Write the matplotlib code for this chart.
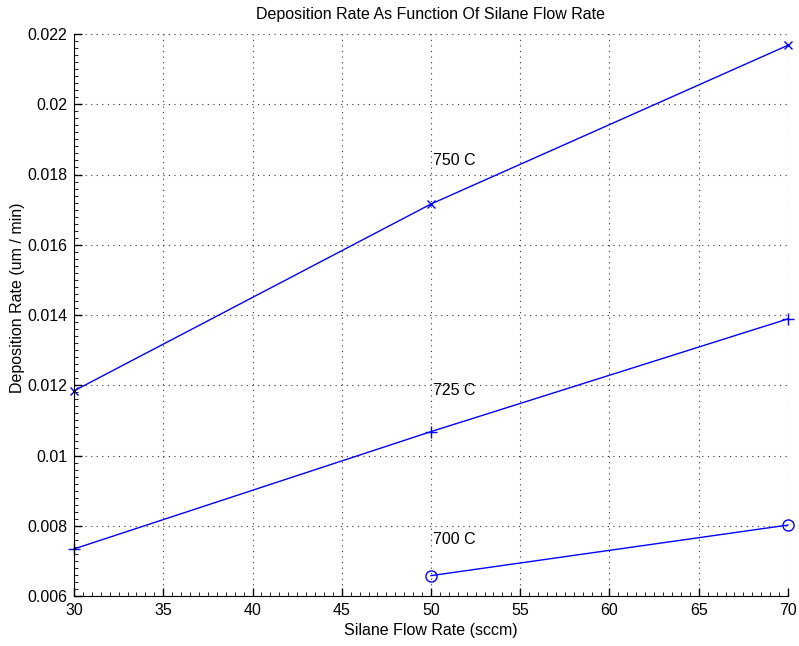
import matplotlib
matplotlib.use("Agg")
import matplotlib.pyplot as plt
from matplotlib.ticker import MultipleLocator

plt.rcParams['font.family'] = ['Liberation Sans', 'DejaVu Sans']

flow = [30, 50, 70]
rate_750 = [0.01184, 0.01716, 0.02168]
rate_725 = [0.00734, 0.01068, 0.01389]
flow_700 = [50, 70]
rate_700 = [0.00658, 0.00802]

labels = ["750 C", "725 C", "700 C"]
label_x = [50.1, 50.1, 50.1]
label_y = [0.01841, 0.01186, 0.00762]

FS = 11.5

fig = plt.figure(figsize=(7.99, 6.46), dpi=100)
ax = fig.add_axes([74 / 799, 1 - 596 / 646, (788 - 74) / 799, (596 - 34) / 646])

ax.plot(flow, rate_750, color='blue', lw=1, marker='x', ms=6, mew=1, clip_on=False)
ax.plot(flow, rate_725, color='blue', lw=1, marker='+', ms=8, mew=1, clip_on=False)
ax.plot(flow_700, rate_700, color='blue', lw=1, marker='o', ms=8, mew=1, mfc='none',
        clip_on=False)

for t, x, y in zip(labels, label_x, label_y):
    ax.text(x, y, t, fontsize=FS, ha='left', va='center')

ax.set_xlim(30, 70)
ax.set_ylim(0.006, 0.022)
ax.xaxis.set_major_locator(MultipleLocator(5))
ax.xaxis.set_minor_locator(MultipleLocator(0.5))
ax.yaxis.set_minor_locator(MultipleLocator(0.0002))
ax.set_yticks([0.006, 0.008, 0.01, 0.012, 0.014, 0.016, 0.018, 0.02, 0.022])
ax.set_yticklabels(['0.006', '0.008', '0.01', '0.012', '0.014', '0.016', '0.018', '0.02', '0.022'])

ax.grid(True, which='major', linestyle=(0, (1, 4)), color='#333333', lw=0.8)
ax.spines['top'].set_visible(False)
ax.spines['right'].set_visible(False)
ax.tick_params(which='major', direction='in', length=6, width=1, labelsize=FS, pad=5)
ax.tick_params(which='minor', direction='in', length=3, width=0.6)

ax.set_title("Deposition Rate As Function Of Silane Flow Rate", fontsize=FS, pad=11)
ax.set_xlabel("Silane Flow Rate (sccm)", fontsize=FS, labelpad=4)
ax.set_ylabel("Deposition Rate (um / min)", fontsize=FS)
ax.yaxis.set_label_coords(-0.068, 0.53)

fig.savefig("out.png", dpi=100)
